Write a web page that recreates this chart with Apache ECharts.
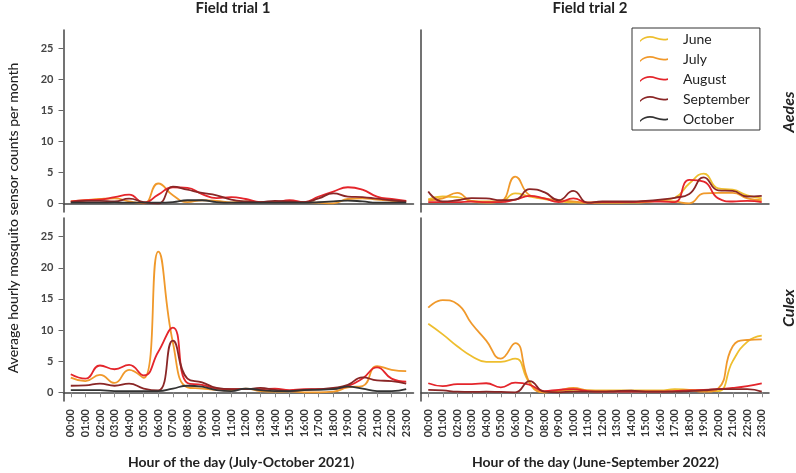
<!DOCTYPE html>
<html><head><meta charset="utf-8">
<script src="https://cdn.jsdelivr.net/npm/echarts@6/dist/echarts.min.js"></script>
<style>html,body{margin:0;padding:0;background:#fff}#c{width:796px;height:473px}</style>
</head><body><div id="c"></div>
<script>
const hours = ['00:00','01:00','02:00','03:00','04:00','05:00','06:00','07:00','08:00','09:00','10:00','11:00',
  '12:00','13:00','14:00','15:00','16:00','17:00','18:00','19:00','20:00','21:00','22:00','23:00'];
const months = ['June','July','August','September','October'];
const yTicks = [0, 5, 10, 15, 20, 25];
const colTitles = ['Field trial 1', 'Field trial 2'];
const rowTitles = ['Aedes', 'Culex'];
const xTitles = ['Hour of the day (July-October 2021)', 'Hour of the day (June-September 2022)'];
const yTitle = 'Average hourly mosquito sensor counts per month';

// Aedes, field trial 1 (2021)
const aedes1July      = [0.3,0.5,0.7,0.8,0.3,0.0,3.2,1.3,0.2,0.5,0.4,0.15,0.3,0.2,0.2,0.2,0.2,0.1,0.0,0.7,0.8,0.6,0.4,0.3];
const aedes1August    = [0.3,0.5,0.6,1.0,1.4,0.1,1.4,2.6,2.5,1.5,0.85,1.0,0.7,0.2,0.2,0.5,0.2,1.1,1.9,2.6,2.2,1.1,0.7,0.4];
const aedes1September = [0.2,0.4,0.4,0.3,0.75,0.2,0.0,2.7,2.2,1.7,1.3,0.6,0.3,0.2,0.4,0.3,0.2,0.8,1.6,1.1,1.0,0.75,0.5,0.3];
const aedes1October   = [0.1,0.1,0.1,0.15,0.1,0.1,0.1,0.2,0.5,0.5,0.2,0.1,0.1,0.1,0.1,0.1,0.1,0.2,0.3,0.45,0.3,0.1,0.1,0.1];
// Aedes, field trial 2 (2022)
const aedes2June      = [0.65,1.1,1.0,0.4,0.3,0.3,1.6,1.1,0.7,0.3,0.15,0.1,0.1,0.1,0.1,0.2,0.5,0.9,3.2,4.8,2.4,2.2,1.3,0.8];
const aedes2July      = [0.5,0.8,1.7,0.3,0.1,0.3,4.3,1.3,0.8,0.5,0.3,0.1,0.1,0.1,0.2,0.3,0.4,0.3,0.0,1.6,1.7,1.7,0.8,0.5];
const aedes2August    = [0.2,0.2,0.2,0.3,0.2,0.2,0.6,1.2,0.8,0.2,0.8,0.1,0.2,0.2,0.2,0.3,0.3,0.2,3.8,3.5,0.8,0.3,0.4,0.2];
const aedes2September = [1.9,0.3,0.5,0.85,0.8,0.5,0.6,2.3,1.8,0.5,2.0,0.1,0.3,0.3,0.3,0.4,0.6,0.9,1.5,4.2,2.1,2.0,1.1,1.2];
// Culex, field trial 1 (2021)
const culex1July      = [2.35,1.8,2.8,1.5,3.6,2.3,22.6,8.0,0.8,0.6,0.4,0.3,0.6,0.2,0.1,0.15,0.0,0.0,0.1,0.8,1.0,4.2,3.6,3.4];
const culex1August    = [2.9,2.2,4.3,3.7,4.4,2.7,6.5,10.4,1.5,1.2,0.6,0.5,0.5,0.5,0.6,0.35,0.5,0.5,0.6,1.0,2.2,4.0,2.2,1.7];
const culex1September = [1.05,1.1,1.4,1.05,1.4,0.6,0.3,8.3,2.2,1.6,0.7,0.5,0.5,0.7,0.4,0.2,0.4,0.5,0.7,1.2,2.4,1.9,1.8,1.4];
const culex1October   = [0.35,0.35,0.35,0.2,0.2,0.2,0.2,0.6,1.05,0.9,0.35,0.2,0.6,0.35,0.2,0.2,0.35,0.4,0.5,0.9,0.6,0.2,0.2,0.5];
// Culex, field trial 2 (2022)
const culex2June      = [11.0,9.3,7.4,5.8,4.9,4.9,5.4,1.5,0.0,0.2,0.4,0.3,0.3,0.3,0.3,0.3,0.3,0.5,0.4,0.3,0.2,5.0,8.1,9.1];
const culex2July      = [13.6,14.8,14.2,11.0,8.3,5.4,7.9,1.5,0.0,0.3,0.7,0.3,0.2,0.2,0.2,0.2,0.2,0.2,0.3,0.1,0.6,7.4,8.4,8.5];
const culex2August    = [1.45,1.0,1.3,1.3,1.45,0.8,1.55,1.2,0.2,0.4,0.5,0.2,0.1,0.1,0.1,0.1,0.1,0.2,0.3,0.4,0.5,0.7,1.0,1.45];
const culex2September = [0.4,0.3,0.1,0.05,0.1,0.05,0.0,1.8,0.1,0.0,0.1,0.1,0.1,0.2,0.25,0.1,0.1,0.1,0.2,0.3,0.5,0.5,0.5,0.1];

const colors = {June:'#EEBE2E', July:'#F0992B', August:'#E4252B', September:'#8A2626', October:'#333333'};

const panels = [
  {grid:{left:63.5, top:30, width:350, height:182}, labelsY:true,  labelsX:false,
   series:{July:aedes1July, August:aedes1August, September:aedes1September, October:aedes1October}},
  {grid:{left:421, top:30, width:348, height:182}, labelsY:false, labelsX:false,
   series:{June:aedes2June, July:aedes2July, August:aedes2August, September:aedes2September}},
  {grid:{left:63.5, top:218, width:350, height:183}, labelsY:true,  labelsX:true,
   series:{July:culex1July, August:culex1August, September:culex1September, October:culex1October}},
  {grid:{left:421, top:218, width:348, height:183}, labelsY:false, labelsX:true,
   series:{June:culex2June, July:culex2July, August:culex2August, September:culex2September}}
];

const FONT = 'Lato';
const axisCol = '#444';
const grids = [], xAxes = [], yAxes = [], series = [];
panels.forEach((p, i) => {
  grids.push(p.grid);
  xAxes.push({
    gridIndex:i, type:'category', data:hours, boundaryGap:true,
    axisLine:{show:true, lineStyle:{color:axisCol, width:1.5}},
    axisTick:{show:p.labelsX, alignWithLabel:true, length:5, interval:0, lineStyle:{color:'#8a8a8a', width:1}},
    axisLabel:{show:p.labelsX, rotate:90, interval:0, margin:8, fontFamily:FONT, fontWeight:'bold', fontSize:11, color:'#333'},
    splitLine:{show:false}
  });
  yAxes.push({
    gridIndex:i, type:'value', min:-1.4, max:28,
    axisLine:{show:true, lineStyle:{color:axisCol, width:1.5}},
    axisTick:{show:p.labelsY, length:5, customValues:yTicks, lineStyle:{color:'#666'}},
    axisLabel:{show:p.labelsY, customValues:yTicks, margin:10, fontFamily:FONT, fontWeight:'bold', fontSize:11, color:'#444'},
    splitLine:{show:false}
  });
  months.forEach(m => {
    if (!p.series[m]) return;
    series.push({
      type:'line', name:m, xAxisIndex:i, yAxisIndex:i, data:p.series[m],
      smooth:0.5, symbol:'none', showSymbol:false,
      lineStyle:{color:colors[m], width:1.8}, itemStyle:{color:colors[m]},
      emphasis:{disabled:true}, silent:true
    });
  });
});

const wave = 'path://M0,6 C5,1 11,1 16,3 C20,4.5 24,5 28,4 L28,5.8 C24,6.8 20,6.3 16,4.8 C11,2.8 5,2.8 0,7.8 Z';

const txt = (x, y, s, font, extra) => Object.assign({
  type:'text', x, y, silent:true,
  style:{text:s, font, fill:'#222', textAlign:'center', textVerticalAlign:'middle'}
}, extra || {});

const graphic = [
  txt(233, 8, colTitles[0], 'bold 15px ' + FONT),
  txt(590, 8, colTitles[1], 'bold 15px ' + FONT),
  txt(13, 218, yTitle, '500 14px ' + FONT, {rotation:Math.PI/2}),
  txt(789, 112, rowTitles[0], 'italic bold 16px ' + FONT, {rotation:Math.PI/2}),
  txt(789, 308, rowTitles[1], 'italic bold 16px ' + FONT, {rotation:Math.PI/2}),
  {type:'text', x:128, y:462, silent:true, style:{text:xTitles[0], font:'bold 14px ' + FONT, fill:'#222', textAlign:'left', textVerticalAlign:'middle'}},
  {type:'text', x:472, y:462, silent:true, style:{text:xTitles[1], font:'bold 14px ' + FONT, fill:'#222', textAlign:'left', textVerticalAlign:'middle'}}
];

const chart = echarts.init(document.getElementById('c'), null, {renderer:'canvas'});
chart.setOption({
  animation:false,
  backgroundColor:'#fff',
  grid:grids, xAxis:xAxes, yAxis:yAxes, series,
  legend:{
    data:months, orient:'vertical', left:632, top:28,
    padding:[4,10,4,8], itemGap:6, itemWidth:28, itemHeight:14, icon:wave,
    borderColor:'#333', borderWidth:1, backgroundColor:'#fff',
    textStyle:{fontFamily:FONT, fontSize:14, color:'#222', padding:[0,0,0,10]}
  },
  graphic
});
</script></body></html>
